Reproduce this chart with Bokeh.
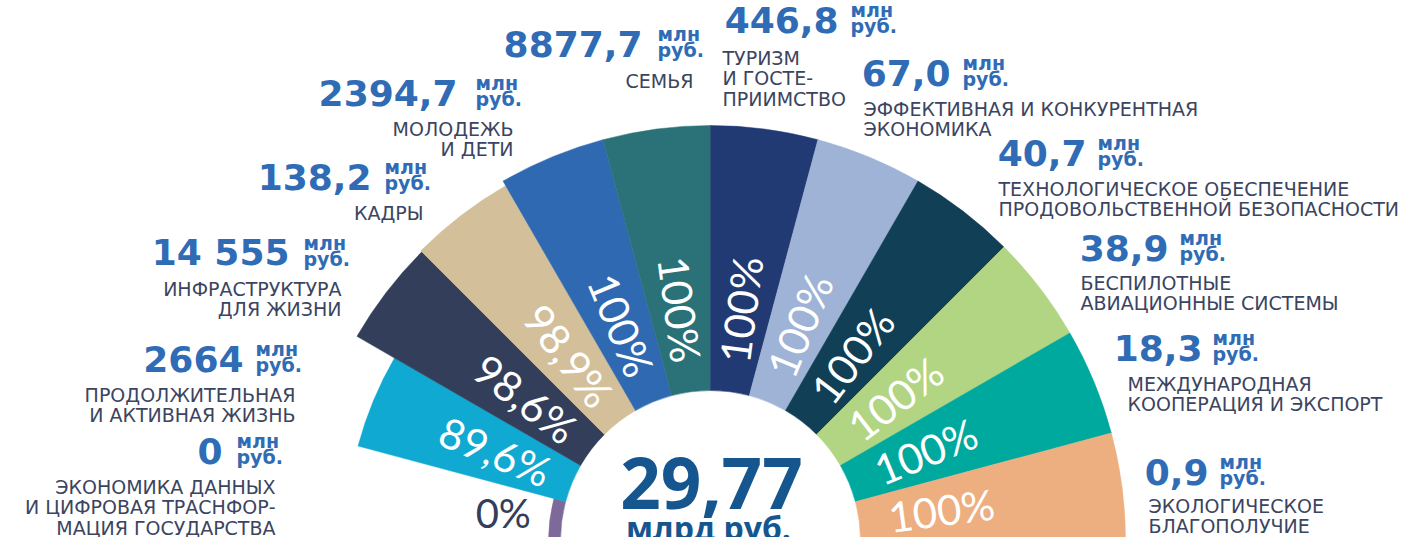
import math
from bokeh.plotting import figure
from bokeh.models import Range1d, ColumnDataSource
from bokeh.core.properties import value
from bokeh.embed import file_html
from bokeh.resources import INLINE

# ---------------- data ----------------
categories = [
    ["ЭКОНОМИКА ДАННЫХ", "И ЦИФРОВАЯ ТРАСНФОР-", "МАЦИЯ ГОСУДАРСТВА"],
    ["ПРОДОЛЖИТЕЛЬНАЯ", "И АКТИВНАЯ ЖИЗНЬ"],
    ["ИНФРАСТРУКТУРА", "ДЛЯ ЖИЗНИ"],
    ["КАДРЫ"],
    ["МОЛОДЕЖЬ", "И ДЕТИ"],
    ["СЕМЬЯ"],
    ["ТУРИЗМ", "И ГОСТЕ-", "ПРИИМСТВО"],
    ["ЭФФЕКТИВНАЯ И КОНКУРЕНТНАЯ", "ЭКОНОМИКА"],
    ["ТЕХНОЛОГИЧЕСКОЕ ОБЕСПЕЧЕНИЕ", "ПРОДОВОЛЬСТВЕННОЙ БЕЗОПАСНОСТИ"],
    ["БЕСПИЛОТНЫЕ", "АВИАЦИОННЫЕ СИСТЕМЫ"],
    ["МЕЖДУНАРОДНАЯ", "КООПЕРАЦИЯ И ЭКСПОРТ"],
    ["ЭКОЛОГИЧЕСКОЕ", "БЛАГОПОЛУЧИЕ"],
]
amount_labels = ["0", "2664", "14 555", "138,2", "2394,7", "8877,7",
                 "446,8", "67,0", "40,7", "38,9", "18,3", "0,9"]
percent_values = [0, 89.6, 98.6, 98.9, 100, 100, 100, 100, 100, 100, 100, 100]
percent_labels = ["0%", "89,6%", "98,6%", "98,9%", "100%", "100%",
                  "100%", "100%", "100%", "100%", "100%", "100%"]
unit_lines = ["млн", "руб."]
total_label = "29,77"
total_unit = "млрд руб."

colors = ["#7E6A9A", "#10A9D1", "#333E5B", "#D3BF99", "#2F69B1", "#2A7277",
          "#213A73", "#9EB3D5", "#103F56", "#B1D583", "#00A99E", "#EDAE80"]

# ---------------- layout (reference pixel coords, y down) ----------------
H = 553
CX, CY = 710, 548
R_IN, R_OUT = 150, 415
P_FLOOR = 45          # radial scale starts here
STUB = 12             # minimal bar length for 0 %
LABEL_R = 233
ZERO_LABEL_R = 209

# side, number right edge, number centre y, units x, category x, first category line centre y
label_layout = [
    ("L", 222, 458, 236, 275, 494),
    ("L", 243, 366, 255, 295, 402),
    ("L", 289, 260, 303, 341, 296),
    ("L", 371, 184, 384, 423, 220),
    ("L", 457, 100, 475, 513, 136),
    ("L", 642, 51, 657, 693, 88),
    ("R", 838, 27, 850, 722, 65),
    ("R", 950, 80, 962, 863, 116),
    ("R", 1086, 160, 1097, 998, 196),
    ("R", 1168, 255, 1179, 1080, 290),
    ("R", 1202, 355, 1212, 1127, 391),
    ("R", 1208, 479, 1219, 1148, 513),
]
LINE_GAP = 20.5
UNIT_UP, UNIT_DOWN = -10, 6

NUM_FONT = value("DejaVu Sans")
CAT_FONT = value("DejaVu Sans")
PCT_FONT = value("Lato")
TOT_FONT = value("Open Sans")
NUM_COLOR = "#2F6CB5"
CAT_COLOR = "#3B4460"
TOT_COLOR = "#15568F"


def Y(y):
    return H - y


def radial(p):
    frac = max((p - P_FLOOR) / (100 - P_FLOOR), 0.0)
    return max(R_IN + (R_OUT - R_IN) * frac, R_IN + STUB)


p = figure(width=1401, height=537, output_backend="svg", toolbar_location=None,
           title=None, x_range=Range1d(0, 1401), y_range=Range1d(8, 545),
           x_axis_location=None, y_axis_location=None, min_border=0)
p.grid.visible = False
p.outline_line_color = None
p.background_fill_color = "white"
p.border_fill_color = "white"

n = len(percent_values)
step = 180.0 / n
starts, ends, outers = [], [], []
for i, pv in enumerate(percent_values):
    a1 = 180 - step * (i + 1)
    a2 = 180 - step * i
    starts.append(math.radians(a1))
    ends.append(math.radians(a2))
    outers.append(radial(pv))

wsrc = ColumnDataSource(dict(x=[CX] * n, y=[Y(CY)] * n, inner=[R_IN] * n,
                             outer=outers, start=starts, end=ends, color=colors))
p.annular_wedge(x="x", y="y", inner_radius="inner", outer_radius="outer",
                start_angle="start", end_angle="end", fill_color="color",
                line_color="color", line_width=0.5, source=wsrc)

# percent labels
px, py, pt, pa = [], [], [], []
zx, zy, zt = [], [], []
for i, pv in enumerate(percent_values):
    mid = 180 - step * (i + 0.5)
    if pv == 0:
        zx.append(CX + ZERO_LABEL_R * math.cos(math.radians(mid)))
        zy.append(Y(CY) + ZERO_LABEL_R * math.sin(math.radians(mid)))
        zt.append(percent_labels[i])
        continue
    px.append(CX + LABEL_R * math.cos(math.radians(mid)))
    py.append(Y(CY) + LABEL_R * math.sin(math.radians(mid)))
    pt.append(percent_labels[i])
    pa.append(math.radians(mid - 180 if mid > 90 else mid))

p.text(x=px, y=py, text=pt, angle=pa, text_font=PCT_FONT, text_font_size="42px",
       text_color="white", text_align="center", text_baseline="middle")
p.text(x=zx, y=zy, text=zt, text_font=PCT_FONT, text_font_size="40px",
       text_color="#333E5B", text_align="center", text_baseline="middle")

# amount labels
for side in ("L", "R"):
    nx, ny, nt = [], [], []
    ux, uy, ut = [], [], []
    cx_, cy_, ct = [], [], []
    for i, lay in enumerate(label_layout):
        s, numx, numc, unitx, catx, catc = lay
        if s != side:
            continue
        nx.append(numx); ny.append(Y(numc)); nt.append(amount_labels[i])
        ux += [unitx, unitx]
        uy += [Y(numc + UNIT_UP), Y(numc + UNIT_DOWN)]
        ut += unit_lines
        for k, line in enumerate(categories[i]):
            cx_.append(catx); cy_.append(Y(catc + k * LINE_GAP)); ct.append(line)
    align = "right" if side == "L" else "left"
    p.text(x=nx, y=ny, text=nt, text_font=NUM_FONT, text_font_size="36px",
           text_font_style="bold", text_color=NUM_COLOR, text_align="right",
           text_baseline="middle")
    p.text(x=ux, y=uy, text=ut, text_font=NUM_FONT, text_font_size="19px",
           text_font_style="bold", text_color=NUM_COLOR, text_align="left",
           text_baseline="middle")
    p.text(x=cx_, y=cy_, text=ct, text_font=CAT_FONT, text_font_size="19px",
           text_color=CAT_COLOR, text_align=align, text_baseline="middle")

# centre total
p.text(x=[711], y=[Y(490)], text=[total_label], text_font=TOT_FONT,
       text_font_size="71px", text_font_style="bold", text_color=TOT_COLOR,
       text_align="center", text_baseline="middle")
p.text(x=[708], y=[Y(535)], text=[total_unit], text_font=TOT_FONT,
       text_font_size="32px", text_font_style="bold", text_color=TOT_COLOR,
       text_align="center", text_baseline="middle")

open("out.html", "w").write(file_html(p, INLINE))
